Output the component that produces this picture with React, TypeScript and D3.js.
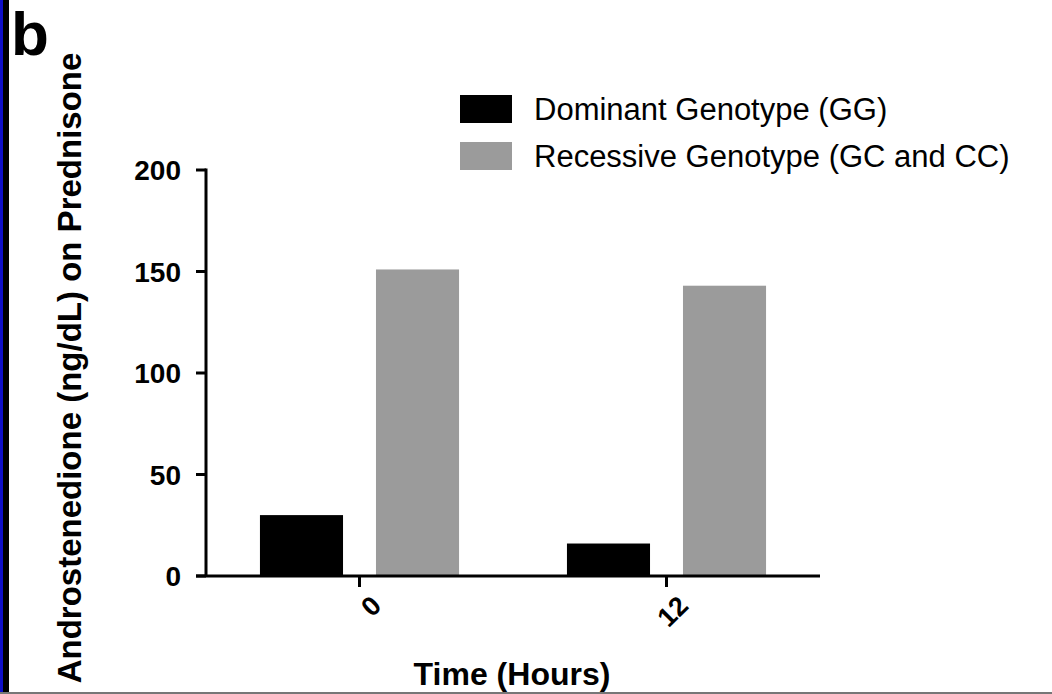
import React, { useEffect, useRef } from 'react'
import * as d3 from 'd3'

const timepoints = ['0', '12']
const genotypes = ['Dominant Genotype (GG)', 'Recessive Genotype (GC and CC)']
const dominantValues = [30, 16]
const recessiveValues = [151, 143]
const yTicks = [0, 50, 100, 150, 200]
const barColors = ['#000000', '#9b9b9b']

export default function App() {
    const ref = useRef<SVGSVGElement>(null)

    useEffect(() => {
        const svg = d3.select(ref.current)
        svg.selectAll('*').remove()

        const W = 1052, H = 694
        const font = 'Liberation Sans, Arial, sans-serif'

        svg.append('rect').attr('width', W).attr('height', H).attr('fill', '#fff')
        // frame bits from the scanned figure
        svg.append('rect').attr('x', 0).attr('y', 0).attr('width', 3).attr('height', H).attr('fill', '#1010c8')
        svg.append('rect').attr('x', 3).attr('y', 0).attr('width', 6).attr('height', H).attr('fill', '#000')
        svg.append('rect').attr('x', 0).attr('y', H - 2).attr('width', W).attr('height', 2).attr('fill', '#777')

        const x = d3.scaleBand().domain(timepoints).range([206, 820]).padding(0)
        const inner = d3.scaleBand().domain(genotypes).range([0, x.bandwidth()])
            .paddingInner(0.284).paddingOuter(0.465)
        const y = d3.scaleLinear().domain([0, 200]).range([576, 170])

        const series = [dominantValues, recessiveValues]
        series.forEach((vals, si) => {
            svg.append('g').selectAll('rect').data(vals).join('rect')
                .attr('x', (_d, i) => (x(timepoints[i]) as number) + (inner(genotypes[si]) as number))
                .attr('width', inner.bandwidth())
                .attr('y', d => y(d))
                .attr('height', d => y(0) - y(d))
                .attr('fill', barColors[si])
        })

        // y axis
        const yAxis = svg.append('g')
        yAxis.append('line').attr('x1', 206).attr('x2', 206).attr('y1', y(200) - 1.5).attr('y2', y(0))
            .attr('stroke', '#000').attr('stroke-width', 3)
        yAxis.selectAll('line.tick').data(yTicks).join('line').attr('class', 'tick')
            .attr('x1', 196).attr('x2', 206).attr('y1', d => y(d)).attr('y2', d => y(d))
            .attr('stroke', '#000').attr('stroke-width', 3)
        yAxis.selectAll('text').data(yTicks).join('text')
            .attr('x', 181).attr('y', d => y(d)).attr('dy', '0.36em')
            .attr('text-anchor', 'end').style('font', `bold 28px ${font}`)
            .text(d => d)

        // x axis
        const xAxis = svg.append('g')
        xAxis.append('line').attr('x1', 196).attr('x2', 820).attr('y1', y(0)).attr('y2', y(0))
            .attr('stroke', '#000').attr('stroke-width', 3)
        xAxis.selectAll('line.tick').data(timepoints).join('line').attr('class', 'tick')
            .attr('x1', d => (x(d) as number) + x.bandwidth() / 2)
            .attr('x2', d => (x(d) as number) + x.bandwidth() / 2)
            .attr('y1', y(0)).attr('y2', y(0) + 11)
            .attr('stroke', '#000').attr('stroke-width', 3)
        xAxis.selectAll('text').data(timepoints).join('text')
            .attr('transform', d => `translate(${(x(d) as number) + x.bandwidth() / 2 + 10},${y(0) + 18}) rotate(-45)`)
            .attr('text-anchor', 'end').attr('dy', '0.7em')
            .style('font', `bold 27px ${font}`)
            .text(d => d)

        svg.append('text').attr('x', 512).attr('y', 685).attr('text-anchor', 'middle')
            .style('font', `bold 32px ${font}`).text('Time (Hours)')

        svg.append('text').attr('transform', 'translate(81,368) rotate(-90)').attr('text-anchor', 'middle')
            .style('font', `bold 33px ${font}`).text('Androstenedione (ng/dL) on Prednisone')

        svg.append('text').attr('x', 11).attr('y', 55).style('font', `bold 62px ${font}`).text('b')

        // legend
        const legend = svg.append('g').selectAll('g').data(genotypes).join('g')
            .attr('transform', (_d, i) => `translate(460,${95 + i * 47})`)
        legend.append('rect').attr('width', 52).attr('height', 28).attr('fill', (_d, i) => barColors[i])
        legend.append('text').attr('x', 74).attr('y', 14).attr('dy', '0.36em')
            .style('font', `31px ${font}`).text(d => d)
    }, [])

    return (
        <svg ref={ref} width={1052} height={694} style={{ position: 'absolute', left: 0, top: 0 }} />
    )
}
